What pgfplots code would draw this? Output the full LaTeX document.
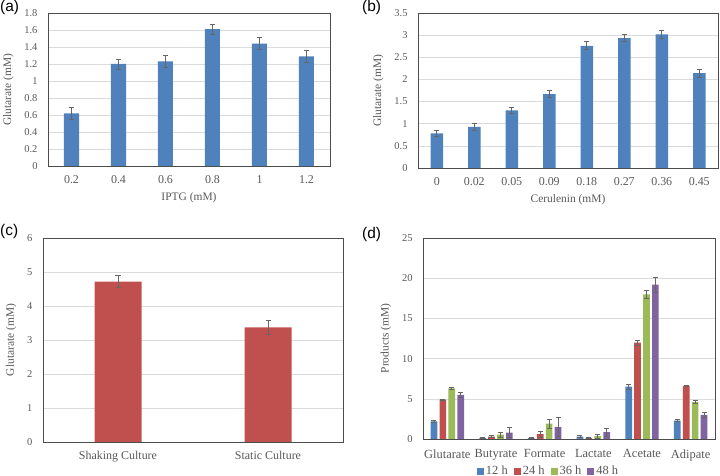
\documentclass[border=0pt]{standalone}
\usepackage{pgfplots}
\pgfplotsset{compat=1.18}
\usepackage{fontspec}
\setmainfont{Liberation Serif}
\newfontfamily\lsans{Liberation Sans}
\definecolor{xblue}{HTML}{4F81BD}
\definecolor{xred}{HTML}{C0504D}
\definecolor{xgreen}{HTML}{9BBB59}
\definecolor{xpurple}{HTML}{8064A2}
\definecolor{txt}{HTML}{595959}
\begin{document}
\begin{tikzpicture}
\path[use as bounding box] (0bp,0bp) rectangle (720bp,476bp);
\pgfplotsset{
  panel/.style={
    scale only axis, anchor=south west, ybar,
    axis line style={draw=black!70},
    ymajorgrids, grid style={draw=black!14, line width=0.6pt},
    major tick length=0pt,
    tick label style={text=txt},
    yticklabel style={font=\fontsize{10.5}{12}\selectfont, xshift=-7bp},
    xticklabel style={font=\fontsize{12}{13}\selectfont, yshift=-6bp},
    label style={text=txt, font=\fontsize{11.5}{13}\selectfont},
    xlabel style={yshift=-2bp},
    ylabel style={yshift=4bp},
    /pgf/number format/assume math mode=true,
    xtick=data,
    error bars/y dir=both, error bars/y explicit,
    error bars/error bar style={draw=black!60, line width=0.6pt},
    error bars/error mark options={draw=black!60, line width=0.6pt, mark size=2.5bp, rotate=90},
    ymin=0,
  },
}
% (a)
\begin{axis}[panel, at={(48bp,310bp)}, width=282bp, height=153bp,
  xmin=-0.5, xmax=5.5, ymax=1.8, ytick distance=0.2,
  xticklabels={0.2,0.4,0.6,0.8,1,1.2}, bar width=15bp,
  xlabel={IPTG (mM)}, ylabel={Glutarate (mM)}]
\addplot[fill=xblue, draw=none] table[x=x, y=y, y error=e] {
x y e
0 0.62 0.07
1 1.20 0.06
2 1.23 0.07
3 1.61 0.06
4 1.44 0.07
5 1.29 0.07
};
\end{axis}
% (b)
\begin{axis}[panel, at={(418bp,308bp)}, width=300bp, height=155bp,
  xmin=-0.5, xmax=7.5, ymax=3.5, ytick distance=0.5,
  xticklabels={0,0.02,0.05,0.09,0.18,0.27,0.36,0.45}, bar width=12.5bp,
  xlabel={Cerulenin (mM)}, ylabel={Glutarate (mM)}]
\addplot[fill=xblue, draw=none] table[x=x, y=y, y error=e] {
x y e
0 0.78 0.07
1 0.93 0.08
2 1.30 0.07
3 1.67 0.08
4 2.76 0.09
5 2.93 0.08
6 3.02 0.10
7 2.14 0.09
};
\end{axis}
% (c)
\begin{axis}[panel, at={(43bp,34bp)}, width=300bp, height=204bp,
  xmin=-0.5, xmax=1.5, ymax=6, ytick distance=1,
  xticklabels={Shaking Culture,Static Culture}, bar width=47bp,
  ylabel={Glutarate (mM)}]
\addplot[fill=xred, draw=none] table[x=x, y=y, y error=e] {
x y e
0 4.72 0.17
1 3.37 0.20
};
\end{axis}
% (d)
\begin{axis}[panel, at={(423bp,37bp)}, width=292bp, height=201bp,
  ybar=2.2bp, bar width=6.7bp,
  xmin=-0.5, xmax=5.5, ymax=25, ytick distance=5,
  xticklabels={Glutarate,Butyrate,Formate,Lactate,Acetate,Adipate},
  xticklabel style={font=\fontsize{12.5}{13}\selectfont, yshift=-1bp},
  ylabel={Products (mM)},
  legend columns=4,
  legend style={draw=none, at={(0.43,-0.16)}, anchor=center,
    font=\fontsize{12.5}{13}\selectfont, text=txt,
    /tikz/every even column/.append style={column sep=4bp},
    inner sep=0pt},
  legend image code/.code={\fill[#1] (0bp,-3.5bp) rectangle (7bp,3.5bp);}]
\addplot[fill=xblue, draw=none] table[x=x, y=y, y error=e] {
x y e
0 2.2 0.1
1 0.15 0.05
2 0.1 0.05
3 0.3 0.15
4 6.5 0.3
5 2.3 0.15
};
\addplot[fill=xred, draw=none] table[x=x, y=y, y error=e] {
x y e
0 4.9 0.1
1 0.3 0.15
2 0.6 0.35
3 0.15 0.1
4 12.0 0.3
5 6.6 0.08
};
\addplot[fill=xgreen, draw=none] table[x=x, y=y, y error=e] {
x y e
0 6.3 0.15
1 0.55 0.3
2 1.9 0.6
3 0.35 0.25
4 18.0 0.5
5 4.6 0.2
};
\addplot[fill=xpurple, draw=none] table[x=x, y=y, y error=e] {
x y e
0 5.5 0.35
1 0.8 0.6
2 1.5 1.2
3 0.85 0.5
4 19.2 0.9
5 3.0 0.35
};
\legend{12 h,24 h,36 h,48 h}
\end{axis}
\node[anchor=north west, inner sep=0pt, font=\lsans\fontsize{15.5}{16}\selectfont] at (0bp,476bp) {(a)};
\node[anchor=north west, inner sep=0pt, font=\lsans\fontsize{15.5}{16}\selectfont] at (362bp,476bp) {(b)};
\node[anchor=north west, inner sep=0pt, font=\lsans\fontsize{15.5}{16}\selectfont] at (0bp,252bp) {(c)};
\node[anchor=north west, inner sep=0pt, font=\lsans\fontsize{15.5}{16}\selectfont] at (362bp,249bp) {(d)};
\end{tikzpicture}
\end{document}
